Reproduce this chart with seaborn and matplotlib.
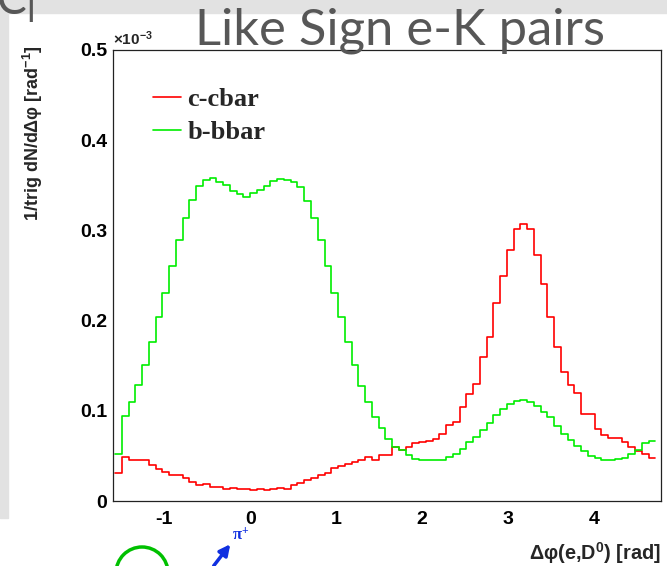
import numpy as np
import pandas as pd
import matplotlib
matplotlib.use("Agg")
import matplotlib.pyplot as plt
import seaborn as sns
from matplotlib.lines import Line2D
from matplotlib.patches import Rectangle, Ellipse, FancyArrowPatch

# values in units of 1e-3, 80 bins from -pi/2 to 3pi/2
ccbar = [0.031, 0.049, 0.045, 0.046, 0.045, 0.040, 0.036, 0.032, 0.029, 0.029,
         0.0255, 0.021, 0.0176, 0.019, 0.016, 0.016, 0.0133, 0.0142, 0.0133, 0.0133,
         0.0125, 0.0133, 0.012, 0.0133, 0.0144, 0.0133, 0.0175, 0.0202, 0.0233, 0.026,
         0.029, 0.0315, 0.037, 0.0385, 0.041, 0.0437, 0.046, 0.049, 0.0456, 0.051,
         0.051, 0.0597, 0.056, 0.060, 0.064, 0.065, 0.0667, 0.069, 0.074, 0.084,
         0.088, 0.104, 0.119, 0.130, 0.160, 0.182, 0.220, 0.249, 0.278, 0.302,
         0.307, 0.301, 0.273, 0.241, 0.204, 0.171, 0.143, 0.129, 0.120, 0.096,
         0.096, 0.080, 0.073, 0.070, 0.070, 0.065, 0.060, 0.055, 0.052, 0.048]

bbbar = [0.052, 0.094, 0.110, 0.129, 0.151, 0.176, 0.204, 0.231, 0.261, 0.289,
         0.314, 0.334, 0.349, 0.356, 0.358, 0.354, 0.350, 0.344, 0.340, 0.337,
         0.341, 0.345, 0.349, 0.355, 0.357, 0.356, 0.354, 0.348, 0.333, 0.314,
         0.289, 0.261, 0.231, 0.204, 0.176, 0.151, 0.127, 0.110, 0.093, 0.081,
         0.069, 0.060, 0.056, 0.051, 0.047, 0.0456, 0.046, 0.046, 0.046, 0.049,
         0.052, 0.058, 0.065, 0.071, 0.079, 0.087, 0.0956, 0.102, 0.107, 0.111,
         0.112, 0.110, 0.105, 0.099, 0.093, 0.083, 0.074, 0.068, 0.061, 0.055,
         0.050, 0.048, 0.046, 0.0456, 0.047, 0.048, 0.052, 0.057, 0.064, 0.066]

x_ticks = [-1, 0, 1, 2, 3, 4]
y_ticks = [0, 0.1, 0.2, 0.3, 0.4, 0.5]
y_tick_labels = ["0", "0.1", "0.2", "0.3", "0.4", "0.5"]

n_bins = 80
hist_range = (-np.pi / 2, 1.5 * np.pi)
edges = np.linspace(hist_range[0], hist_range[1], n_bins + 1)
df = pd.DataFrame({
    "dphi": 0.5 * (edges[:-1] + edges[1:]),
    "ccbar": ccbar,
    "bbbar": bbbar,
})

sns.set_style("white")
plt.rcParams["font.family"] = ["Liberation Sans", "DejaVu Sans"]
plt.rcParams["font.weight"] = "bold"
plt.rcParams["axes.unicode_minus"] = False
plt.rcParams["mathtext.default"] = "regular"

fig = plt.figure(figsize=(6.67, 5.66), dpi=100)
fig.patch.set_facecolor("white")

# slide background bits
fig.add_artist(Rectangle((0, 1 - 13 / 566), 1, 13 / 566, transform=fig.transFigure,
                         color="#e2e2e2", zorder=0))
fig.add_artist(Rectangle((0, 1 - 518 / 566), 8 / 667, 518 / 566, transform=fig.transFigure,
                         color="#e2e2e2", zorder=0))

ax = fig.add_axes([112.7 / 667, 65 / 566, 548 / 667, 451 / 566])

sns.histplot(data=df, x="dphi", weights="ccbar", bins=n_bins, binrange=hist_range,
             element="step", fill=False, color="#ff0000", linewidth=1.2, ax=ax)
sns.histplot(data=df, x="dphi", weights="bbbar", bins=n_bins, binrange=hist_range,
             element="step", fill=False, color="#00ee00", linewidth=1.2, ax=ax)

ax.set_xlim(-1.6, 4.775)
ax.set_ylim(0, 0.5)
ax.set_xlabel("")
ax.set_ylabel("")
ax.set_xticks(x_ticks)
ax.set_xticks(np.arange(-1.4, 4.8, 0.2), minor=True)
ax.set_yticks(y_ticks)
ax.set_yticklabels(y_tick_labels)
ax.set_yticks(np.arange(0, 0.5, 0.02), minor=True)
ax.tick_params(axis="both", which="both", direction="in", colors="black",
               top=False, right=False, width=0.8, labelsize=14)
ax.tick_params(axis="x", which="major", length=10, pad=7)
ax.tick_params(axis="x", which="minor", length=5)
ax.tick_params(axis="y", which="major", length=12.5, pad=4)
ax.tick_params(axis="y", which="minor", length=6)
for s in ax.spines.values():
    s.set_color("#222222")
    s.set_linewidth(0.9)

ax.text(0.0, 1.004, r"$\times$10$^{-3}$", transform=ax.transAxes, ha="left",
        va="bottom", fontsize=11)
ax.text(-0.145, 1.01, "1/trig dN/dΔφ [rad$^{-1}$]", transform=ax.transAxes,
        rotation=90, ha="center", va="top", fontsize=13)
ax.text(1.0, -0.115, "Δφ(e,D$^{0}$) [rad]", transform=ax.transAxes,
        ha="right", va="center", fontsize=14.3)

handles = [Line2D([], [], color="#ff0000", lw=1.2),
           Line2D([], [], color="#00ee00", lw=1.2)]
ax.legend(handles, ["c-cbar", "b-bbar"], loc="upper left",
          bbox_to_anchor=(0.0735, 0.917), frameon=False, borderpad=0,
          borderaxespad=0, handlelength=1.05, handletextpad=0.25,
          labelspacing=0.38,
          prop={"family": "Liberation Serif", "weight": "bold", "size": 19})

# slide title
fig.text(400 / 667, 1 - 44 / 566, "Like Sign e-K pairs", ha="center", va="baseline",
         fontsize=36.5, color="#575757", fontfamily="Lato", fontweight="normal")
fig.text(-0.004, 1 - 14 / 566, "C|", ha="left", va="baseline",
         fontsize=32, color="#575757", fontfamily="Lato", fontweight="normal")

# pieces of the diagram below
fig.add_artist(Ellipse((142 / 667, -7 / 566), 52 / 667, 52 / 566,
                       transform=fig.transFigure, fill=False,
                       edgecolor="#00c000", linewidth=2.5))
fig.add_artist(FancyArrowPatch((212 / 667, -2 / 566), (232 / 667, 24 / 566),
                               transform=fig.transFigure, arrowstyle="-|>",
                               mutation_scale=16, color="#1030e0", linewidth=2.5))
fig.text(241 / 667, 1 - 536 / 566, "π$^{+}$", ha="center", va="center",
         fontsize=12, color="#1030e0", fontfamily="Liberation Serif",
         fontweight="bold")

fig.savefig("out.png", dpi=100)
